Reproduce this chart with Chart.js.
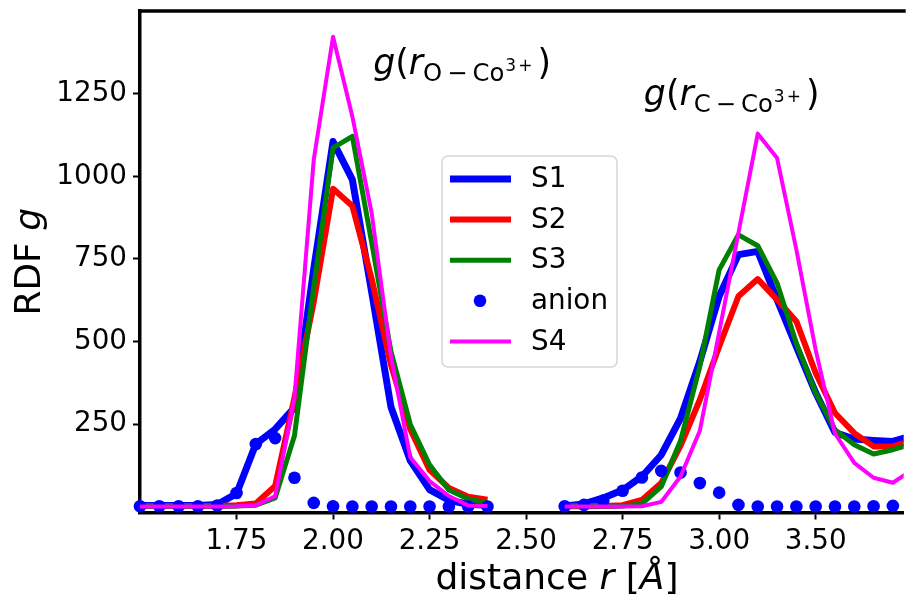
<!DOCTYPE html>
<html>
<head>
<meta charset="utf-8">
<script src="https://cdn.jsdelivr.net/npm/chart.js@4.4.1/dist/chart.umd.min.js"></script>
<style>
  html, body { margin: 0; padding: 0; background: #fff; }
  #wrap { width: 910px; height: 596px; }
</style>
</head>
<body>
<div id="wrap"><canvas id="canvas" width="910" height="596"></canvas></div>
<script>
// distances (two windows, 0.05 step)
var xLeft = [1.50, 1.55, 1.60, 1.65, 1.70, 1.75, 1.80, 1.85, 1.90, 1.95, 2.00, 2.05, 2.10, 2.15, 2.20, 2.25, 2.30, 2.35, 2.40];
var xRight = [2.60, 2.65, 2.70, 2.75, 2.80, 2.85, 2.90, 2.95, 3.00, 3.05, 3.10, 3.15, 3.20, 3.25, 3.30, 3.35, 3.40, 3.45, 3.50];

// g(r) O - Co3+
var s1Left = [4, 4, 4, 4, 7, 40, 190, 235, 300, 720, 1105, 990, 650, 302, 140, 52, 20, 8, 5];
var s2Left = [3, 3, 3, 3, 3, 5, 10, 63, 330, 620, 962, 910, 690, 430, 235, 112, 57, 31, 22];
var s3Left = [2, 2, 2, 2, 2, 3, 5, 27, 215, 665, 1086, 1121, 800, 470, 250, 127, 51, 24, 12];
var anionLeft = [2, 2, 2, 2, 4, 42, 190, 208, 88, 12, 2, 1, 1, 1, 1, 1, 1, 1, 1];
var s4Left = [1, 1, 1, 1, 1, 2, 5, 32, 330, 1050, 1422, 1181, 889, 455, 150, 78, 33, 4, 3];

// g(r) C - Co3+
var s1Right = [3, 9, 27, 51, 92, 157, 268, 440, 637, 763, 773, 627, 485, 345, 225, 205, 201, 198, 215];
var s2Right = [2, 2, 3, 5, 21, 72, 185, 324, 485, 637, 689, 627, 561, 405, 284, 223, 183, 183, 200];
var s3Right = [2, 2, 2, 3, 9, 61, 200, 425, 717, 823, 790, 677, 495, 345, 233, 188, 160, 173, 190];
var anionRight = [2, 6, 19, 49, 89, 109, 104, 72, 43, 6, 1, 1, 1, 1, 1, 1, 2, 3, 4];
var s4Right = [1, 1, 1, 1, 2, 15, 92, 230, 528, 829, 1129, 1055, 778, 475, 222, 133, 88, 73, 112];

var xTickValues = [1.75, 2.00, 2.25, 2.50, 2.75, 3.00, 3.25];
var xTickLabels = ['1.75', '2.00', '2.25', '2.50', '2.75', '3.00', '3.50'];
var yTickValues = [250, 500, 750, 1000, 1250];

var legendNames = ['S1', 'S2', 'S3', 'anion', 'S4'];
var annAtoms = ['O', 'C'];
var annX = [2.104, 2.805];
var annY = [1308, 1217];

var FONT = '"DejaVu Sans"';

function joinSeries(left, right) {
  var pts = xLeft.map(function(x, i) { return {x: x, y: left[i]}; });
  pts.push({x: 2.5, y: null});
  return pts.concat(xRight.map(function(x, i) { return {x: x, y: right[i]}; }));
}

function drawRuns(ctx, x, y, runs, measureOnly) {
  var start = x;
  runs.forEach(function(r) {
    ctx.font = (r.it ? 'italic ' : '') + r.size + 'px ' + FONT;
    x += r.gap || 0;
    if (!measureOnly) ctx.fillText(r.t, x, y + (r.dy || 0));
    x += ctx.measureText(r.t).width;
  });
  return x - start;
}

var extras = {
  id: 'extras',
  afterDraw: function(chart) {
    var ctx = chart.ctx, a = chart.chartArea;
    var xs = chart.scales.x, ys = chart.scales.y;
    ctx.save();
    // top spine
    ctx.strokeStyle = '#000';
    ctx.lineWidth = 3.5;
    ctx.beginPath();
    ctx.moveTo(a.left - 1.75, a.top);
    ctx.lineTo(a.right + 2, a.top);
    ctx.stroke();

    ctx.fillStyle = '#000';
    ctx.textBaseline = 'alphabetic';
    ctx.textAlign = 'left';

    // annotations
    annAtoms.forEach(function(atom, i) {
      var px = xs.getPixelForValue(annX[i]);
      var py = ys.getPixelForValue(annY[i]);
      drawRuns(ctx, px, py, [
        {t: 'g', it: 1, size: 34.7},
        {t: '(', size: 34.7},
        {t: 'r', it: 1, size: 34.7},
        {t: atom, size: 24.3, dy: 7},
        {t: '\u2212', size: 24.3, dy: 7, gap: 5},
        {t: 'Co', size: 24.3, dy: 7, gap: 5},
        {t: '3', size: 17, dy: -3, gap: 1},
        {t: '+', size: 17, dy: -3, gap: 2},
        {t: ')', size: 34.7, gap: 5}
      ]);
    });

    // x title
    var xr = [
      {t: 'distance ', size: 36},
      {t: 'r', it: 1, size: 36},
      {t: ' [', size: 36},
      {t: '\u00c5', it: 1, size: 36},
      {t: ']', size: 36}
    ];
    var w = drawRuns(ctx, 0, 0, xr, true);
    drawRuns(ctx, xs.getPixelForValue(2.58) - w / 2, 589, xr);

    // y title
    var yr = [{t: 'RDF ', size: 36}, {t: 'g', it: 1, size: 36}];
    var wy = drawRuns(ctx, 0, 0, yr, true);
    ctx.translate(40, (a.top + a.bottom) / 2);
    ctx.rotate(-Math.PI / 2);
    drawRuns(ctx, -wy / 2, 0, yr);
    ctx.restore();

    // legend
    ctx.save();
    var bx = 442, by = 156, bw = 175, bh = 211, r = 6;
    ctx.fillStyle = 'rgba(255,255,255,0.8)';
    ctx.strokeStyle = '#d6d6d6';
    ctx.lineWidth = 1.5;
    ctx.beginPath();
    ctx.roundRect(bx, by, bw, bh, r);
    ctx.fill();
    ctx.stroke();
    ctx.font = '27.8px ' + FONT;
    ctx.fillStyle = '#000';
    ctx.textBaseline = 'middle';
    chart.data.datasets.forEach(function(ds, i) {
      var cy = by + 23 + i * 40.6;
      if (ds.showLine === false) {
        ctx.fillStyle = ds.pointBackgroundColor;
        ctx.beginPath();
        ctx.arc(480, cy, ds.pointRadius, 0, Math.PI * 2);
        ctx.fill();
      } else {
        ctx.strokeStyle = ds.borderColor;
        ctx.lineWidth = ds.borderWidth;
        ctx.beginPath();
        ctx.moveTo(450, cy);
        ctx.lineTo(511, cy);
        ctx.stroke();
      }
      ctx.fillStyle = '#000';
      ctx.fillText(legendNames[i], 531, cy + 1);
    });
    ctx.restore();
  }
};

function lineSet(label, left, right, color, width, order) {
  return {
    label: label,
    data: joinSeries(left, right),
    borderColor: color,
    backgroundColor: color,
    borderWidth: width,
    borderJoinStyle: 'round',
    pointRadius: 0,
    tension: 0,
    fill: false,
    order: order
  };
}

function printChart() {
  var ctx = document.getElementById('canvas').getContext('2d');
  new Chart(ctx, {
    type: 'line',
    data: {
      datasets: [
        lineSet('S1', s1Left, s1Right, '#0000ff', 7, 5),
        lineSet('S2', s2Left, s2Right, '#ff0000', 6, 4),
        lineSet('S3', s3Left, s3Right, '#008000', 5, 3),
        {
          label: 'anion',
          data: joinSeries(anionLeft, anionRight),
          showLine: false,
          pointRadius: 6.3,
          pointBackgroundColor: '#0000ff',
          pointBorderWidth: 0,
          borderColor: '#0000ff',
          clip: 10,
          order: 2
        },
        lineSet('S4', s4Left, s4Right, '#ff00ff', 4, 1)
      ]
    },
    options: {
      responsive: false,
      animation: false,
      layout: { padding: { top: 11, right: 0, left: 0, bottom: 0 } },
      plugins: { legend: { display: false }, tooltip: { enabled: false } },
      scales: {
        x: {
          type: 'linear',
          min: 1.5,
          max: 3.478,
          afterFit: function(s) { s.height = 83.5; s.paddingLeft = 0; s.paddingRight = 0; },
          afterBuildTicks: function(s) { s.ticks = xTickValues.map(function(v) { return {value: v}; }); },
          ticks: {
            autoSkip: false,
            maxRotation: 0,
            padding: 6,
            color: '#000',
            font: { family: 'DejaVu Sans', size: 27.8 },
            callback: function(v, i) { return xTickLabels[i]; }
          },
          grid: { drawOnChartArea: false, tickLength: 7, tickColor: '#000', tickWidth: 2 },
          border: { display: true, color: '#000', width: 3.5 }
        },
        y: {
          min: -17,
          max: 1500,
          afterFit: function(s) { s.width = 140; s.paddingTop = 0; s.paddingBottom = 0; },
          afterBuildTicks: function(s) { s.ticks = yTickValues.map(function(v) { return {value: v}; }); },
          ticks: {
            padding: 6,
            color: '#000',
            font: { family: 'DejaVu Sans', size: 27.8 },
            callback: function(v) { return String(v); }
          },
          grid: { drawOnChartArea: false, tickLength: 7, tickColor: '#000', tickWidth: 2 },
          border: { display: true, color: '#000', width: 3.5 }
        }
      }
    },
    plugins: [extras]
  });
}

printChart();
</script>
</body>
</html>
